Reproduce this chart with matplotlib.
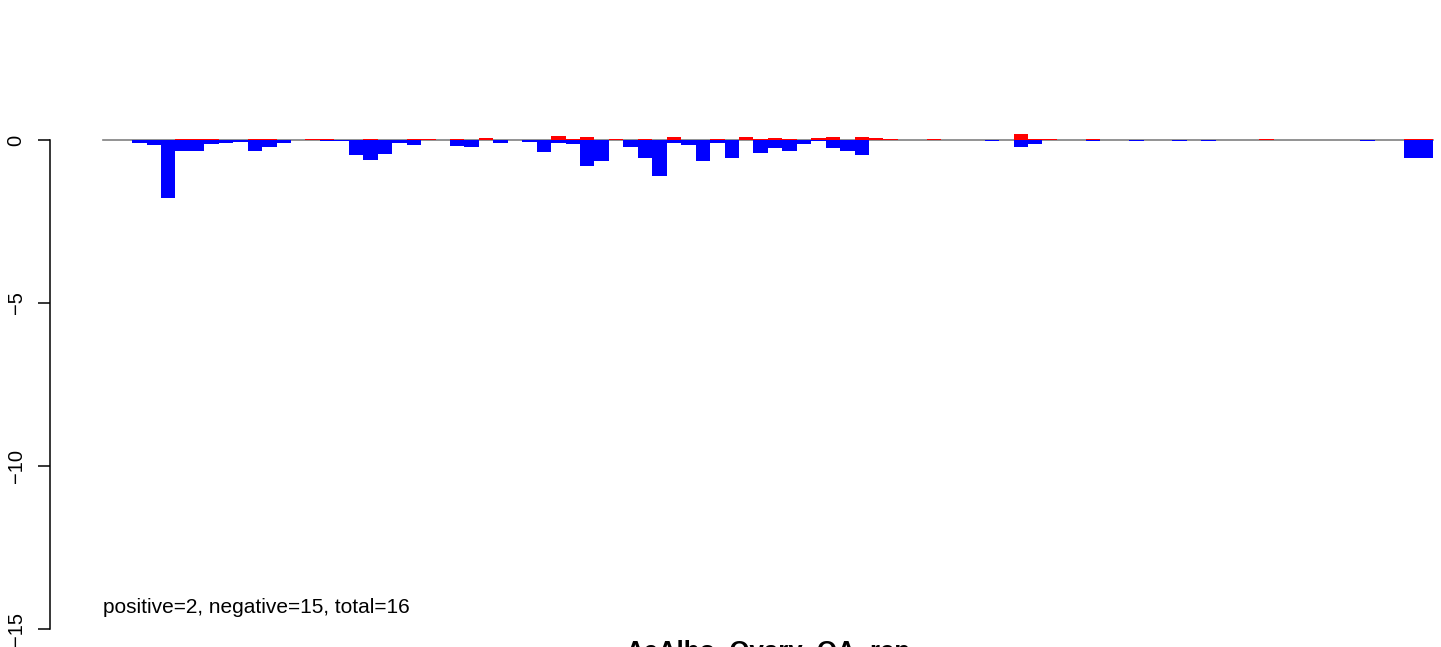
import matplotlib
matplotlib.use("Agg")
import matplotlib.pyplot as plt

plt.rcParams['font.family'] = ['Liberation Sans', 'DejaVu Sans']

# positive (red) and negative (blue) values per position, 92 positions
pos_vals = [0, 0, 0, 0, 0, 0.03, 0.03, 0.03, 0, 0,
            0.03, 0.03, 0, 0, 0.03, 0.03, 0, 0, 0.03, 0,
            0, 0.03, 0.04, 0, 0.03, 0, 0.07, 0, 0, 0,
            0, 0.12, 0.03, 0.09, 0, 0.03, 0, 0.03, 0, 0.09,
            0, 0, 0.03, 0, 0.09, 0.03, 0.06, 0.03, 0, 0.06,
            0.09, 0, 0.09, 0.06, 0.03, 0, 0, 0.03, 0, 0,
            0, 0, 0, 0.18, 0.03, 0.03, 0, 0, 0.03, 0,
            0, 0, 0, 0, 0, 0, 0, 0, 0, 0,
            0.03, 0, 0, 0, 0, 0, 0, 0, 0, 0,
            0.03, 0.03]
neg_vals = [0, 0, -0.09, -0.14, -1.77, -0.33, -0.33, -0.12, -0.09, -0.05,
            -0.33, -0.20, -0.09, 0, 0, -0.03, -0.02, -0.45, -0.60, -0.42,
            -0.08, -0.14, 0, 0, -0.17, -0.20, 0, -0.08, 0, -0.05,
            -0.36, -0.08, -0.12, -0.79, -0.63, 0, -0.20, -0.54, -1.09, -0.10,
            -0.14, -0.63, -0.10, -0.54, 0, -0.39, -0.24, -0.33, -0.11, -0.03,
            -0.24, -0.33, -0.45, 0, 0, 0, 0, 0, 0, 0,
            0, -0.02, 0, -0.20, -0.12, 0, 0, 0, -0.02, 0,
            0, -0.02, 0, 0, -0.02, 0, -0.02, 0, 0, 0,
            0, 0, 0, 0, 0, 0, 0, -0.02, 0, 0,
            -0.54, -0.54]
y_ticks = [0, -5, -10, -15]
note = "positive=2, negative=15, total=16"
title = "AeAlbo_Ovary_OA_rep"

W, H = 1441, 647
fig = plt.figure(figsize=(W / 100, H / 100), dpi=100)

# plot region in pixels (R style, extends past right edge)
n = len(pos_vals)
xlo, xhi = -0.04 * n, n + 0.04 * n
ylo, yhi = -15.6, 3.6
px_per_unit = 32.6
left_px = 50
right_px = 50 + (xhi - xlo) * 14.45
top_px = 140 - yhi * px_per_unit
bot_px = 140 - ylo * px_per_unit
ax = fig.add_axes([left_px / W, 1 - bot_px / H,
                   (right_px - left_px) / W, (bot_px - top_px) / H])

xs = list(range(n))
ax.plot([0, n], [0, 0], color='#808080', lw=1.2, zorder=1)
ax.bar(xs, neg_vals, width=1, align='edge', color='blue', linewidth=0, zorder=2)
ax.bar(xs, pos_vals, width=1, align='edge', color='red', linewidth=0, zorder=3)

ax.set_xlim(xlo, xhi)
ax.set_ylim(ylo, yhi)
for s in ['top', 'right', 'bottom']:
    ax.spines[s].set_visible(False)
ax.spines['left'].set_bounds(-15, 0)
ax.spines['left'].set_linewidth(1.1)
ax.set_xticks([])
ax.set_yticks(y_ticks)
ax.set_yticklabels([str(t).replace('-', '\u2212') for t in y_ticks],
                   rotation=90, va='center', fontsize=14.5)
ax.tick_params(axis='y', length=8.6, width=1.1, pad=9)

ax.text(0, -14.52, note, ha='left', va='baseline', fontsize=15)
fig.text(768 / W, 1 - 659 / H, title, ha='center', va='baseline',
         fontsize=18.5, fontweight='bold')

fig.savefig("out.png", dpi=100)
